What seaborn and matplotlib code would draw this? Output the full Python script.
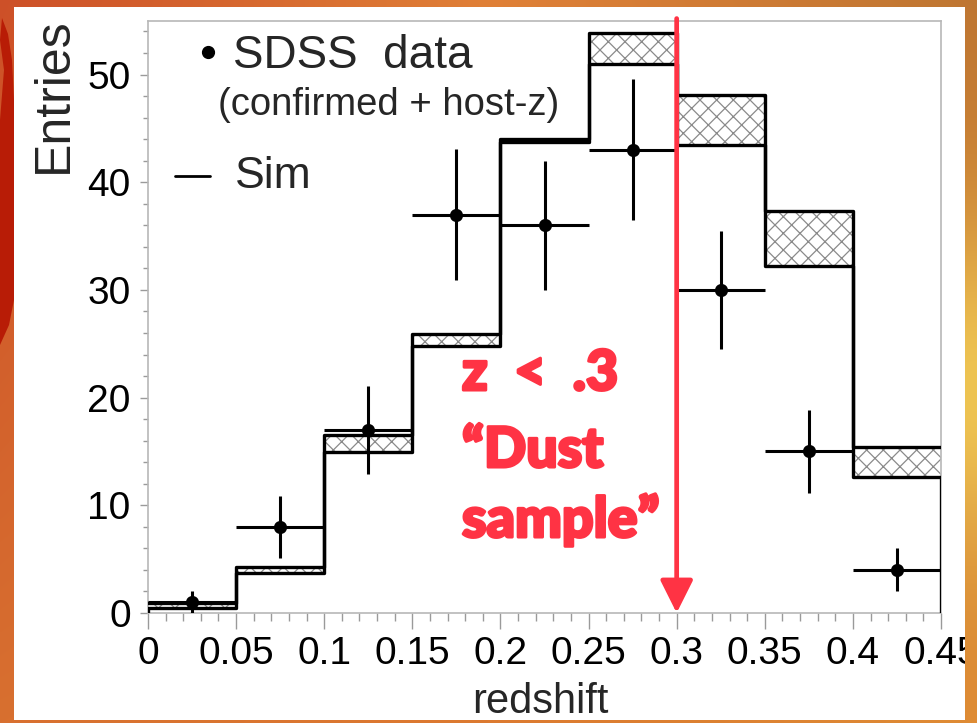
import numpy as np
import matplotlib
matplotlib.use("Agg")
import matplotlib.pyplot as plt
import matplotlib.patheffects as pe
from matplotlib.patches import Polygon
import seaborn as sns

# ---- data -------------------------------------------------------------
bin_edges = [0.0, 0.05, 0.10, 0.15, 0.20, 0.25, 0.30, 0.35, 0.40, 0.45]
bin_centers = [0.025, 0.075, 0.125, 0.175, 0.225, 0.275, 0.325, 0.375, 0.425]

# simulated counts: upper and lower edge of the uncertainty band
sim_upper = [0.9, 4.3, 16.5, 25.9, 44.0, 53.9, 48.1, 37.3, 15.4]
sim_lower = [0.45, 3.7, 14.95, 24.8, 43.7, 51.0, 43.5, 32.2, 12.6]

# SDSS data counts and their errors
data_counts = [1, 8, 17, 37, 36, 43, 30, 15, 4]
data_errors = [1.0, 2.85, 4.1, 6.1, 6.0, 6.55, 5.45, 3.85, 2.0]

xtick_values = [0.0, 0.05, 0.10, 0.15, 0.20, 0.25, 0.30, 0.35, 0.40, 0.45]
xtick_labels = ["0", "0.05", "0.1", "0.15", "0.2", "0.25", "0.3", "0.35", "0.4", "0.45"]
ytick_values = [0, 10, 20, 30, 40, 50]

cut_z = 0.3

# ---- style ------------------------------------------------------------
sns.set_theme(style="white")
plt.rcParams["font.family"] = ["Liberation Sans", "DejaVu Sans"]
plt.rcParams["hatch.linewidth"] = 0.9

W, H = 977, 723
fig = plt.figure(figsize=(W / 100, H / 100), dpi=100, facecolor="white")


def fx(px):
    return px / W


def fy(py):
    return 1 - py / H


ax = fig.add_axes([fx(148), fy(613), fx(941) - fx(148), fy(20.7) - fy(613)], zorder=1)
ax.set_facecolor("white")

# hatched band between lower and upper simulation
ax.stairs(sim_upper, bin_edges, baseline=sim_lower, fill=True,
          facecolor="white", edgecolor="#8a8a8a", hatch="xx", linewidth=0, zorder=2)

# step outlines of the band
for heights in (sim_upper, sim_lower):
    sns.histplot(x=bin_centers, weights=heights, bins=bin_edges, element="step",
                 fill=False, color="black", linewidth=2.4, ax=ax, zorder=3)
ax.vlines([bin_edges[0], bin_edges[-1]], 0, [sim_lower[0], sim_lower[-1]],
          color="black", linewidth=2.4, zorder=3)

# data points with error bars
half_width = [(bin_edges[i + 1] - bin_edges[i]) / 2 for i in range(len(bin_centers))]
ax.errorbar(bin_centers, data_counts, xerr=half_width, yerr=data_errors, fmt="none",
            ecolor="black", elinewidth=2.2, capsize=0, zorder=4)
sns.scatterplot(x=bin_centers, y=data_counts, s=90, color="black", edgecolor="black",
                linewidth=0, ax=ax, zorder=5)

ax.set_xlim(bin_edges[0], bin_edges[-1])
ax.set_ylim(0, 55)
ax.set_xlabel("")
ax.set_ylabel("")

ax.set_xticks(xtick_values)
ax.set_xticklabels(xtick_labels)
ax.set_xticks(np.arange(0, 0.4501, 0.01), minor=True)
ax.set_yticks(ytick_values)
ax.set_yticks(np.arange(0, 55, 2), minor=True)
ax.tick_params(axis="both", which="both", direction="out", color="#9a9a9a", width=1,
               labelsize=28, labelcolor="black")
ax.tick_params(axis="x", which="major", length=11.5, pad=5)
ax.tick_params(axis="x", which="minor", length=6)
ax.tick_params(axis="y", which="major", length=5.5, pad=7)
ax.tick_params(axis="y", which="minor", length=3.5)
ax.tick_params(bottom=True, left=True, top=False, right=False, which="both")
for sp in ax.spines.values():
    sp.set_color("#b8b8b8")
    sp.set_linewidth(1.2)
    sp.set_visible(True)

# cut marker at z = 0.3
red = "#ff3344"
ax.annotate("", xy=(cut_z, 0), xytext=(cut_z, 55.2), xycoords="data",
            arrowprops=dict(arrowstyle="-|>,head_length=20,head_width=10",
                            mutation_scale=1, color=red, lw=3.4,
                            shrinkA=0, shrinkB=0),
            annotation_clip=False, zorder=6)

red_font = dict(family=["Lato", "DejaVu Sans"], fontweight="black", color=red, fontsize=40,
                path_effects=[pe.withStroke(linewidth=2.2, foreground=red)])
fig.text(fx(462), fy(390), "z  <  .3", ha="left", va="baseline", **red_font)
fig.text(fx(462), fy(467), "\u201cDust", ha="left", va="baseline", **red_font)
fig.text(fx(462), fy(537), "sample\u201d", ha="left", va="baseline", **red_font)

# legend
fig.lines.append(plt.Line2D([fx(208)], [fy(52)], marker="o", markersize=8.5,
                            color="black", transform=fig.transFigure))
fig.text(fx(233), fy(68), "SDSS  data", ha="left", va="baseline", fontsize=33)
fig.text(fx(218), fy(115), "(confirmed + host-z)", ha="left", va="baseline", fontsize=27.5)
fig.lines.append(plt.Line2D([fx(175), fx(210)], [fy(176), fy(176)], color="black",
                            linewidth=2.0, transform=fig.transFigure))
fig.text(fx(235), fy(188), "Sim", ha="left", va="baseline", fontsize=32)

# axis titles
fig.text(fx(54), fy(17), "Entries", rotation=90, ha="center", va="top", fontsize=36)
fig.text(fx(540), fy(713), "redshift", ha="center", va="baseline", fontsize=30)

# ---- orange slide frame around the white panel ------------------------
yy, xx = np.mgrid[0:H, 0:W].astype(float)
u = xx / (W - 1)
v = yy / (H - 1)
top_l, top_m, top_r = np.array([205, 80, 40]), np.array([224, 128, 55]), np.array([190, 118, 50])
bot_l, bot_m, bot_r = np.array([216, 112, 48]), np.array([220, 122, 48]), np.array([222, 138, 52])


def row(c_l, c_m, c_r):
    w_l = np.clip(1 - 2 * u, 0, 1)[..., None]
    w_r = np.clip(2 * u - 1, 0, 1)[..., None]
    w_m = 1 - w_l - w_r
    return c_l * w_l + c_m * w_m + c_r * w_r


rgb = row(top_l, top_m, top_r) * (1 - v[..., None]) + row(bot_l, bot_m, bot_r) * v[..., None]
glow = np.exp(-(((xx - W) / 160) ** 2 + ((yy - 390) / 170) ** 2))[..., None]
rgb = rgb * (1 - glow) + np.array([238, 196, 82]) * glow
alpha = np.ones((H, W))
alpha[7:720, 14:965] = 0
frame = np.dstack([rgb / 255, alpha])

over = fig.add_axes([0, 0, 1, 1], zorder=10)
over.imshow(frame, extent=[0, W, H, 0], interpolation="bilinear", aspect="auto")
over.add_patch(Polygon([(2, 18), (8, 34), (12, 60), (14, 100), (14, 300), (9, 325),
                        (0, 345), (0, 120), (4, 70), (0, 40)],
                       closed=True, facecolor="#b81c06", edgecolor="none"))
over.set_xlim(0, W)
over.set_ylim(H, 0)
over.axis("off")

fig.savefig("out.png", dpi=100, facecolor="white")
